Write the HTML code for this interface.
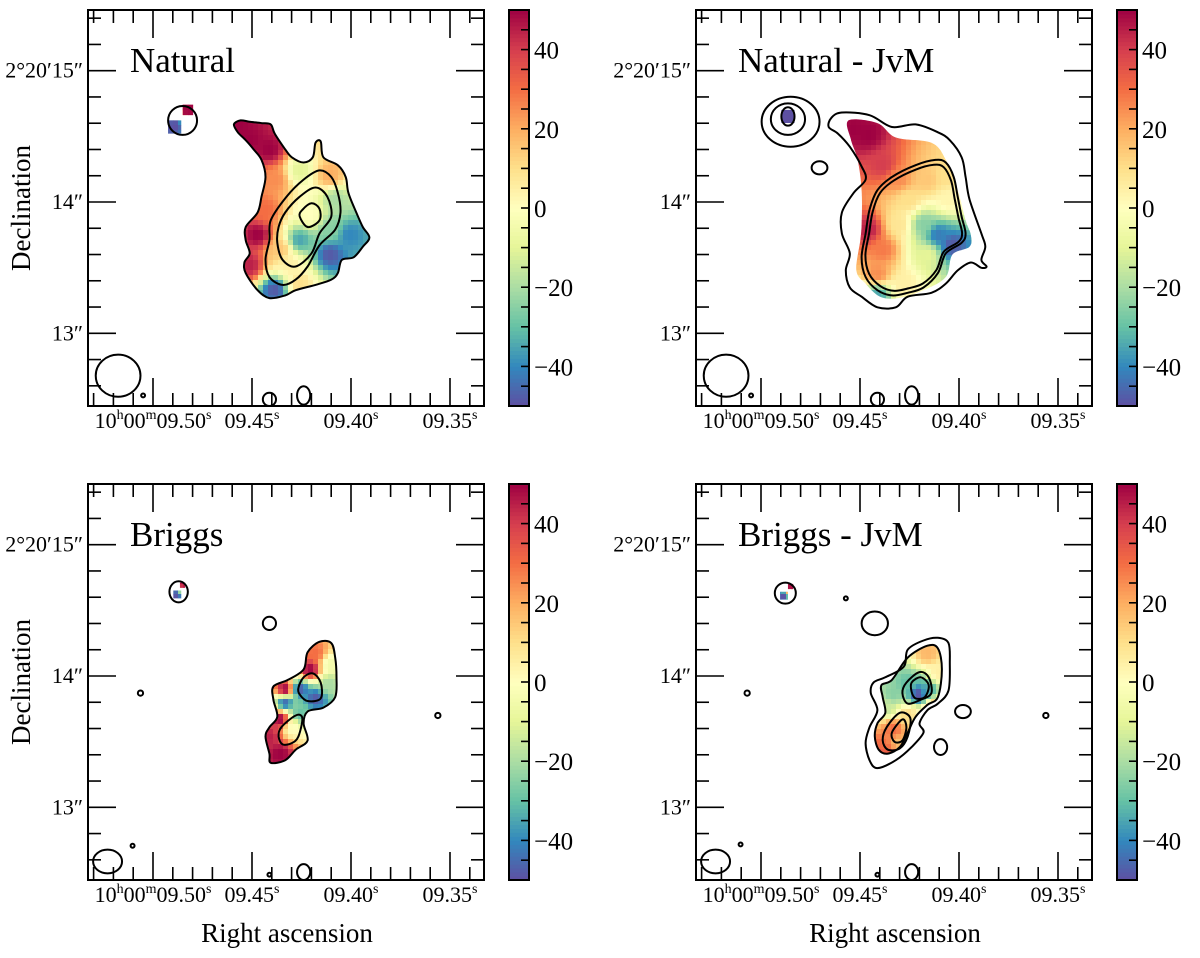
<!DOCTYPE html>
<html><head><meta charset="utf-8"><title>Velocity maps</title>
<style>
html,body{margin:0;padding:0;background:#fff;}
svg{display:block;}
text{font-family:"Liberation Serif","DejaVu Serif",serif;fill:#000;}
</style></head>
<body>
<svg id="fig" xmlns="http://www.w3.org/2000/svg" width="1200" height="958" viewBox="0 0 1200 958"></svg>
<script>
// ---- axis tick data ----
const raMajor = [9.50, 9.45, 9.40, 9.35];
const raMajorLabels = ['10h00m09.50s', '09.45s', '09.40s', '09.35s'];
const raMinor = [9.53,9.52,9.51,9.49,9.48,9.47,9.46,9.44,9.43,9.42,9.41,9.39,9.38,9.37,9.36,9.34];
const decMajor = [15, 14, 13];
const decMajorLabels = ['2°20′15″', '14″', '13″'];
const decMinor = [15.4,15.2,14.8,14.6,14.4,14.2,13.8,13.6,13.4,13.2,12.8,12.6];
const cbTicks = [40, 20, 0, -20, -40];
const cbMinor = [45,35,30,25,15,10,5,-5,-10,-15,-25,-30,-35,-45];
const cbMin = -50, cbMax = 50;

// ---- data: offsets in units of 0.01 arcsec (east +, north +) relative to RA 09.40s / Dec 14″ ----
// Natural
const natOuter = [[89,59],[84,62],[77,61],[68,60],[61,59],[58,52],[50,40],[45,34],[36,30],[29,34],[27,45],[23,46],[21,34],[10,28],[4,19],[2,7],[-4,-8],[-9,-19],[-14,-27],[-9,-34],[-2,-42],[7,-44],[10,-54],[15,-59],[27,-63],[42,-67],[50,-71],[62,-73],[71,-67],[80,-54],[81,-46],[77,-39],[80,-29],[80,-19],[71,-8],[68,4],[65,19],[68,32],[74,40],[80,47],[86,53]];
const natC2 = [[49,4],[36,17],[24,24],[15,19],[10,7],[8,-8],[12,-21],[24,-33],[33,-49],[42,-59],[52,-63],[62,-57],[65,-44],[62,-29],[61,-14]];
const natC3 = [[50,-8],[39,4],[27,11],[18,4],[15,-11],[24,-24],[30,-39],[42,-49],[52,-44],[56,-31],[55,-19]];
const natC4 = [[37,-6],[30,-1],[24,-5],[24,-14],[33,-19],[39,-11]];
const natVelX = [77,62,39,58,16,71,77,54,46,39,31,16,16,1,58,39,12,65,85,134,124];
const natVelY = [47,40,24,17,20,-25,-48,-36,-48,-29,-10,-21,-40,-25,-67,-63,2,-6,58,58,70];
const natVel  = [50,50,-10,25,20,50,45,15,5,-35,0,-25,-48,-40,-48,10,-20,30,50,-50,50];
const natIslX = [128,177,158,62,36];
const natIslY = [62,-132,-147,-150,-147];
const natIslRX = [11,17,1.5,5,5];
const natIslRY = [11,16,1.5,5,7];
const natPatchX = [134,124];
const natPatchY = [57,70];
const natPatchR = [5,4];

// Natural - JvM
const njOuter = [[97,64],[89,68],[68,66],[51,57],[33,59],[16,53],[7,47],[-2,34],[-5,19],[-8,2],[-17,-24],[-20,-34],[-17,-44],[-21,-49],[-17,-50],[-9,-46],[1,-52],[10,-62],[21,-69],[39,-72],[48,-80],[62,-80],[74,-72],[83,-65],[86,-52],[83,-39],[89,-24],[89,-8],[80,7],[71,17],[74,27],[83,42],[92,52],[99,57]];
const njC2 = [[62,9],[51,19],[33,28],[18,32],[10,30],[4,19],[1,4],[-2,-11],[-5,-24],[-2,-31],[10,-39],[16,-54],[27,-65],[39,-69],[51,-71],[62,-67],[71,-57],[74,-42],[71,-24],[68,-6]];
const njMask = [[84,62],[62,60],[48,49],[21,45],[10,32],[1,9],[-5,-14],[-9,-25],[-8,-34],[5,-40],[10,-57],[27,-67],[46,-73],[60,-72],[71,-62],[78,-52],[75,-29],[74,-17],[74,9],[77,32],[82,47]];
const njVelX = [69,58,46,24,8,39,46,27,16,5,24,58,62,42,62,69,80,10,130];
const njVelY = [51,28,17,17,2,2,-17,-17,-25,-33,-40,-36,-55,-63,-71,-21,55,20,64];
const njVel  = [50,40,25,15,3,10,8,-25,-42,-48,-10,28,25,5,-35,45,50,10,-50];
const njIslX = [128,130,130,106,177,158,62,36];
const njIslY = [61,63,65,26,-132,-147,-150,-147];
const njIslRX = [22,13,5,6,17,1.5,5,5];
const njIslRY = [19,12,7,5,16,1.5,5,7];
const njPatchX = [130];
const njPatchY = [65];
const njPatchR = [5];

// Briggs
const brOuter = [[33,18],[24,26],[15,25],[12,14],[11,-1],[12,-16],[21,-24],[33,-27],[36,-36],[33,-49],[42,-56],[50,-64],[61,-66],[62,-59],[65,-46],[62,-39],[56,-31],[59,-18],[59,-8],[48,-3],[36,5]];
const brC2a = [[40,-9],[36,-1],[29,2],[23,-5],[23,-17],[33,-19],[39,-14]];
const brC2b = [[53,-39],[42,-30],[37,-32],[40,-46],[45,-51],[52,-52],[55,-46]];
const brVelX = [27,16,31,50,39,27,50,17,54,45,62,54,39,133,128];
const brVelY = [17,9,5,-10,-10,-17,-20,-6,-33,-40,-46,-59,-29,62,70];
const brVel  = [30,-5,50,50,-48,-48,-45,-20,50,0,45,50,-30,-50,50];
const brIslX = [131,62,160,-66,185,166,62,36];
const brIslY = [64,40,-13,-30,-141,-129,-151,-149];
const brIslRX = [7,5,2,2,11,1.5,1.5,5];
const brIslRY = [8,5,2,2,9,1.5,1.5,6];
const brPatchX = [132,128];
const brPatchY = [62,69];
const brPatchR = [3,2];

// Briggs - JvM
const bjOuter = [[39,20],[27,27],[16,29],[8,25],[7,10],[8,-11],[16,-21],[24,-26],[30,-36],[27,-43],[36,-54],[48,-64],[62,-70],[68,-64],[71,-51],[68,-39],[62,-26],[67,-13],[65,-5],[56,-1],[42,7]];
const bjC2 = [[39,14],[24,23],[16,21],[13,5],[16,-16],[24,-22],[33,-31],[39,-43],[45,-54],[54,-59],[61,-56],[64,-46],[62,-36],[56,-28],[58,-16],[59,-7],[51,-3]];
const bjC3a = [[40,-5],[30,3],[23,-1],[21,-13],[29,-18],[39,-21],[43,-13]];
const bjC3b = [[55,-39],[45,-28],[37,-32],[39,-46],[45,-55],[54,-56],[58,-49]];
const bjC4a = [[36,-5],[29,-1],[23,-7],[26,-16],[33,-17],[36,-12]];
const bjC4b = [[51,-43],[43,-33],[40,-39],[43,-49],[49,-50]];
const bjVelX = [24,16,39,31,24,50,54,39,50,46,58,46,20,60,134,128];
const bjVelY = [17,2,-6,-14,-10,-14,-25,-29,-40,-52,-55,-59,-25,-62,61,68];
const bjVel  = [18,5,-30,-50,-35,-25,-15,10,30,15,30,40,25,50,-50,50];
const bjIslX = [132,86,64,161,-3,14,-66,185,166,36,62];
const bjIslY = [63,59,40,-13,-27,-54,-30,-141,-128,-149,-151];
const bjIslRX = [8,1.5,10,2,6,5,2,11,1.5,5,1.5];
const bjIslRY = [8,1.5,9,2,5,6,2,9,1.5,6,1.5];
const bjPatchX = [133,128];
const bjPatchY = [61,68];
const bjPatchR = [3,2];

// ---- layout ----
const AX0 = 88, AX1 = 484, AY0 = 10, AY1 = 406, CB0 = 509, CB1 = 529;
const panels = [
  {key:'natural', title:'Natural', ox:0, oy:0, contours:[natOuter,natC2,natC3,natC4], mask:natOuter,
   vx:natVelX, vy:natVelY, vv:natVel, ix:natIslX, iy:natIslY, irx:natIslRX, iry:natIslRY, fx:natPatchX, fy:natPatchY, fr:natPatchR, ylab:true, xlab:false},
  {key:'natural-jvm', title:'Natural - JvM', ox:608, oy:0, contours:[njOuter,njC2], inner:njC2, mask:njMask,
   vx:njVelX, vy:njVelY, vv:njVel, ix:njIslX, iy:njIslY, irx:njIslRX, iry:njIslRY, fx:njPatchX, fy:njPatchY, fr:njPatchR, ylab:false, xlab:false},
  {key:'briggs', title:'Briggs', ox:0, oy:474, contours:[brOuter,brC2a,brC2b], mask:brOuter,
   vx:brVelX, vy:brVelY, vv:brVel, ix:brIslX, iy:brIslY, irx:brIslRX, iry:brIslRY, fx:brPatchX, fy:brPatchY, fr:brPatchR, ylab:true, xlab:true},
  {key:'briggs-jvm', title:'Briggs - JvM', ox:608, oy:474, contours:[bjOuter,bjC2,bjC3a,bjC3b,bjC4a,bjC4b], mask:bjC2,
   vx:bjVelX, vy:bjVelY, vv:bjVel, ix:bjIslX, iy:bjIslY, irx:bjIslRX, iry:bjIslRY, fx:bjPatchX, fy:bjPatchY, fr:bjPatchR, ylab:false, xlab:true}
];

const NS = 'http://www.w3.org/2000/svg';
const svg = document.getElementById('fig');
function mk(tag, attrs, parent){
  const e = document.createElementNS(NS, tag);
  for (const k in attrs) e.setAttribute(k, attrs[k]);
  (parent||svg).appendChild(e);
  return e;
}
// axis functions
const xRA = (ra) => 351 + (9.40 - ra) * 1980;
const yDec = (d) => 202 - (d - 14) * 131.3;
const xOff = (X) => 351 - X / 0.76;
const yOff = (Y) => 202 - Y / 0.76;
const yCb = (v) => AY1 - (v - cbMin) / (cbMax - cbMin) * (AY1 - AY0);

const stops = [[-50,[94,79,162]],[-40,[50,136,189]],[-30,[102,194,165]],[-20,[171,221,164]],[-10,[230,245,152]],[0,[255,255,191]],[10,[254,224,139]],[20,[253,174,97]],[30,[244,109,67]],[40,[213,62,79]],[50,[158,1,66]]];
function cmap(v){
  v = Math.max(-50, Math.min(50, v));
  for (let i=0;i<stops.length-1;i++){
    const a=stops[i], b=stops[i+1];
    if (v<=b[0]){ const t=(v-a[0])/(b[0]-a[0]); const c=a[1].map((x,j)=>Math.round(x+(b[1][j]-x)*t)); return `rgb(${c[0]},${c[1]},${c[2]})`; }
  }
  return 'rgb(158,1,66)';
}
function smoothPath(pts){
  const n = pts.length;
  const P = pts.map(p => [xOff(p[0]), yOff(p[1])]);
  let d = `M${P[0][0].toFixed(1)},${P[0][1].toFixed(1)}`;
  for (let i=0;i<n;i++){
    const p0=P[(i-1+n)%n], p1=P[i], p2=P[(i+1)%n], p3=P[(i+2)%n];
    const c1=[p1[0]+(p2[0]-p0[0])/6, p1[1]+(p2[1]-p0[1])/6];
    const c2=[p2[0]-(p3[0]-p1[0])/6, p2[1]-(p3[1]-p1[1])/6];
    d += `C${c1[0].toFixed(1)},${c1[1].toFixed(1)} ${c2[0].toFixed(1)},${c2[1].toFixed(1)} ${p2[0].toFixed(1)},${p2[1].toFixed(1)}`;
  }
  return d + 'Z';
}
function shrink(pts, f){
  const cx = pts.reduce((s,p)=>s+p[0],0)/pts.length, cy = pts.reduce((s,p)=>s+p[1],0)/pts.length;
  return pts.map(p=>[cx+(p[0]-cx)*f, cy+(p[1]-cy)*f]);
}
function raLabel(t, x, y, g){
  const te = mk('text', {x:x, y:y, 'text-anchor':'middle', 'font-size':22}, g);
  
  
  const parts = t.match(/(\d+|\.\d+|[hms])/g);
  parts.forEach(p=>{
    const ts = mk('tspan', {}, te);
    if (/^[hms]$/.test(p)){ ts.setAttribute('font-size','14'); ts.setAttribute('dy','-9'); }
    else if (te.childNodes.length>1 && /^[hms]$/.test(te.childNodes[te.childNodes.length-2].textContent)) { ts.setAttribute('dy','9'); }
    ts.textContent = p;
  });
}

panels.forEach((P, pi) => {
  const g = mk('g', {transform:`translate(${P.ox},${P.oy})`});
  
  
  const clipId = 'ax' + pi, maskId = 'mk' + pi;
  const defs = mk('defs', {}, g);
  const cp = mk('clipPath', {id:clipId}, defs);
  mk('rect', {x:AX0, y:AY0, width:AX1-AX0, height:AY1-AY0}, cp);
  const mp = mk('clipPath', {id:maskId}, defs);
  mk('path', {d:smoothPath(P.mask)}, mp);
  P.fx.forEach((x, i) => mk('rect', {x:xOff(x)-P.fr[i]/0.76, y:yOff(P.fy[i])-P.fr[i]/0.76, width:2*P.fr[i]/0.76, height:2*P.fr[i]/0.76}, mp));

  const plot = mk('g', {'clip-path':`url(#${clipId})`}, g);
  // velocity field pixels
  const field = mk('g', {'clip-path':`url(#${maskId})`}, plot);
  
  
  const step = 5;
  for (let py = AY0; py < AY1; py += step){
    for (let px = AX0; px < AX1; px += step){
      const X = (351 - (px+step/2)) * 0.76, Y = (202 - (py+step/2)) * 0.76;
      let ws = 0, vs = 0, near = 1e9;
      for (let k=0;k<P.vv.length;k++){
        const d2 = (X-P.vx[k])**2 + (Y-P.vy[k])**2;
        near = Math.min(near, d2);
        const w = 1/(d2+4)**1.5; ws += w; vs += w*P.vv[k];
      }
      if (near > 60*60) continue;
      mk('rect', {x:px, y:py, width:step+0.3, height:step+0.3, fill:cmap(vs/ws)}, field);
    }
  }
  // contours
  P.contours.forEach((c, ci) => {
    const p = mk('path', {d:smoothPath(c), fill:'none', stroke:'#000', 'stroke-width':2}, plot);
    
    
  });
  if (P.inner){
    const p = mk('path', {d:smoothPath(shrink(P.inner, 0.93)), fill:'none', stroke:'#000', 'stroke-width':2}, plot);
    
    
  }
  P.ix.forEach((x, i) => {
    const e = mk('ellipse', {cx:xOff(x), cy:yOff(P.iy[i]), rx:P.irx[i]/0.76, ry:P.iry[i]/0.76, fill:'none', stroke:'#000', 'stroke-width':2}, plot);
    
    
  });

  // ticks
  const tk = mk('g', {stroke:'#000', 'stroke-width':1.6}, g);
  
  
  raMajor.forEach(r => { const x=xRA(r); mk('line',{x1:x,y1:AY0,x2:x,y2:AY0+28},tk); mk('line',{x1:x,y1:AY1,x2:x,y2:AY1-28},tk); });
  raMinor.forEach(r => { const x=xRA(r); if (x<AX0||x>AX1) return; mk('line',{x1:x,y1:AY0,x2:x,y2:AY0+13},tk); mk('line',{x1:x,y1:AY1,x2:x,y2:AY1-13},tk); });
  decMajor.forEach(d => { const y=yDec(d); mk('line',{x1:AX0,y1:y,x2:AX0+28,y2:y},tk); mk('line',{x1:AX1,y1:y,x2:AX1-28,y2:y},tk); });
  decMinor.forEach(d => { const y=yDec(d); if (y<AY0||y>AY1) return; mk('line',{x1:AX0,y1:y,x2:AX0+13,y2:y},tk); mk('line',{x1:AX1,y1:y,x2:AX1-13,y2:y},tk); });
  const fr = mk('rect', {x:AX0, y:AY0, width:AX1-AX0, height:AY1-AY0, fill:'none', stroke:'#000', 'stroke-width':2}, g);
  
  

  // tick labels
  raMajor.forEach((r, i) => raLabel(raMajorLabels[i], xRA(r), 428, g));
  decMajor.forEach((d, i) => {
    const t = mk('text', {x:AX0-5, y:yDec(d)+7, 'text-anchor':'end', 'font-size':22}, g);
    
    
    t.textContent = decMajorLabels[i];
  });
  // title
  const tt = mk('text', {x:130, y:72, 'font-size':35}, g);
  
  
  tt.textContent = P.title;

  if (P.ylab){
    const yl = mk('text', {x:0, y:0, transform:`translate(30,${yDec(14)+6}) rotate(-90)`, 'text-anchor':'middle', 'font-size':27}, g);
    
    
    yl.textContent = 'Declination';
  }
  if (P.xlab){
    const xl = mk('text', {x:287, y:468, 'text-anchor':'middle', 'font-size':27}, g);
    
    
    xl.textContent = 'Right ascension';
  }

  // colorbar
  const cb = mk('g', {}, g);
  
  
  for (let v = cbMin; v < cbMax; v += 1){
    mk('rect', {x:CB0, y:yCb(v+1), width:CB1-CB0, height:yCb(v)-yCb(v+1)+0.5, fill:cmap(v+0.5)}, cb);
  }
  cbMinor.concat(cbTicks).forEach(v => mk('line', {x1:CB1, y1:yCb(v), x2:CB1-8, y2:yCb(v), stroke:'#000', 'stroke-width':1.6}, cb));
  mk('rect', {x:CB0, y:AY0, width:CB1-CB0, height:AY1-AY0, fill:'none', stroke:'#000', 'stroke-width':2}, cb);
  cbTicks.forEach(v => {
    const t = mk('text', {x:CB1+5, y:yCb(v)+9, 'font-size':25}, cb);
    
    
    t.textContent = v < 0 ? '−' + Math.abs(v) : String(v);
  });
});
</script>
</body></html>
